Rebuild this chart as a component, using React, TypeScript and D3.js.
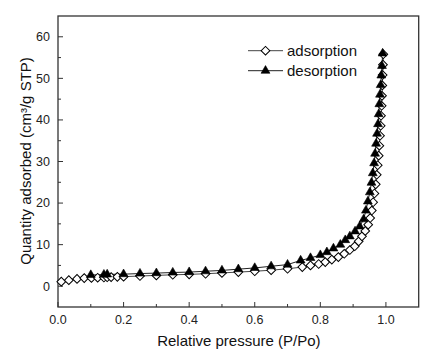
import React from "react";
import * as d3 from "d3";

// adsorption branch (P/Po, quantity)
const adsP = [
  0.01, 0.033, 0.058, 0.08, 0.102, 0.121, 0.14, 0.15, 0.162, 0.181, 0.2, 0.25,
  0.3, 0.35, 0.4, 0.45, 0.5, 0.55, 0.6, 0.65, 0.7, 0.745, 0.77, 0.795, 0.815,
  0.835, 0.855, 0.873, 0.89, 0.905, 0.917, 0.927, 0.937, 0.946, 0.952, 0.957,
  0.961, 0.965, 0.969, 0.972, 0.975, 0.978, 0.98, 0.982, 0.984, 0.985, 0.987,
  0.988, 0.989, 0.99, 0.991, 0.992,
];
const adsQ = [
  1.1, 1.45, 1.75, 1.95, 2.0, 2.05, 2.1, 2.15, 2.2, 2.25, 2.3, 2.45, 2.6, 2.75,
  2.85, 3.0, 3.2, 3.4, 3.6, 3.85, 4.2, 4.6, 5.0, 5.35, 5.8, 6.4, 7.0, 7.8, 8.7,
  9.6, 10.8, 12.0, 13.3, 14.8, 16.4, 18.2, 20.2, 22.3, 24.5, 26.8, 29.1, 31.4,
  33.8, 36.2, 38.6, 41.0, 43.4, 45.8, 48.3, 50.8, 53.3, 55.8,
];

// desorption branch
const desP = [
  0.99, 0.988, 0.986, 0.984, 0.982, 0.98, 0.978, 0.976, 0.973, 0.97, 0.967,
  0.964, 0.96, 0.956, 0.951, 0.945, 0.939, 0.932, 0.92, 0.906, 0.89, 0.876,
  0.861, 0.84, 0.82, 0.8, 0.77, 0.74, 0.7, 0.65, 0.6, 0.55, 0.5, 0.45, 0.4,
  0.35, 0.3, 0.25, 0.2, 0.15, 0.14, 0.1,
];
const desQ = [
  56.0, 53.0, 50.7, 48.4, 46.1, 43.8, 41.4, 39.0, 36.7, 34.3, 31.9, 29.6, 27.2,
  24.9, 22.6, 20.4, 18.2, 16.1, 14.4, 13.2, 12.0, 11.1, 10.0, 9.1, 8.2, 7.5,
  6.8, 6.2, 5.2, 4.8, 4.4, 4.1, 3.8, 3.6, 3.4, 3.3, 3.15, 3.05, 2.9, 2.85, 2.8,
  2.7,
];

const xTicks = [0, 0.2, 0.4, 0.6, 0.8, 1.0];
const xMinor = [0.1, 0.3, 0.5, 0.7, 0.9];
const yTicks = [0, 10, 20, 30, 40, 50, 60];
const yMinor = [5, 15, 25, 35, 45, 55];

const W = 447;
const H = 355;
const left = 58, right = 418.7, top = 16, bottom = 307;
const font = "'Liberation Sans', Arial, sans-serif";

export default function App() {
  const x = d3.scaleLinear().domain([0, 1.1]).range([left, right]);
  const y = d3.scaleLinear().domain([-5, 65]).range([bottom, top]);

  const ads = adsP.map((p, i) => [p, adsQ[i]] as [number, number]);
  const des = desP.map((p, i) => [p, desQ[i]] as [number, number]);

  const line = d3
    .line<[number, number]>()
    .x((d) => x(d[0]))
    .y((d) => y(d[1]));

  const diamond = d3.symbol(d3.symbolSquare, 38)() as string;
  const triangle = d3.symbol(d3.symbolTriangle, 34)() as string;

  return (
    <svg
      width={W}
      height={H}
      style={{ position: "absolute", left: 0, top: 0, background: "#fff" }}
      fontFamily={font}
    >
      {/* frame */}
      <rect
        x={left}
        y={top}
        width={right - left}
        height={bottom - top}
        fill="none"
        stroke="#333"
        strokeWidth={1.3}
      />

      {/* x ticks */}
      {xTicks.map((t) => (
        <g key={"x" + t}>
          <line x1={x(t)} x2={x(t)} y1={bottom} y2={bottom - 5} stroke="#333" />
          <text x={x(t)} y={324} fontSize={12.5} textAnchor="middle" fill="#222">
            {t.toFixed(1)}
          </text>
        </g>
      ))}
      {xMinor.map((t) => (
        <line key={"xm" + t} x1={x(t)} x2={x(t)} y1={bottom} y2={bottom - 3} stroke="#333" />
      ))}

      {/* y ticks */}
      {yTicks.map((t) => (
        <g key={"y" + t}>
          <line x1={left} x2={left + 5} y1={y(t)} y2={y(t)} stroke="#333" />
          <text x={50} y={y(t) + 4.4} fontSize={12.5} textAnchor="end" fill="#222">
            {t}
          </text>
        </g>
      ))}
      {yMinor.map((t) => (
        <line key={"ym" + t} x1={left} x2={left + 3} y1={y(t)} y2={y(t)} stroke="#333" />
      ))}

      {/* axis titles */}
      <text x={(left + right) / 2 + 0.5} y={346} fontSize={15} textAnchor="middle" fill="#111">
        Relative pressure (P/Po)
      </text>
      <text
        transform={`translate(31,${161}) rotate(-90)`}
        fontSize={15}
        textAnchor="middle"
        fill="#111"
      >
        Quantity adsorbed (cm³/g STP)
      </text>

      {/* series lines */}
      <path d={line(ads) || ""} fill="none" stroke="#444" strokeWidth={1} />
      <path d={line(des) || ""} fill="none" stroke="#222" strokeWidth={1} />

      {/* markers */}
      {ads.map((d, i) => (
        <path
          key={"a" + i}
          d={diamond}
          transform={`translate(${x(d[0])},${y(d[1])}) rotate(45)`}
          fill="#fff"
          stroke="#000"
          strokeWidth={1}
        />
      ))}
      {des.map((d, i) => (
        <path
          key={"d" + i}
          d={triangle}
          transform={`translate(${x(d[0])},${y(d[1])})`}
          fill="#000"
          stroke="#000"
          strokeWidth={0.6}
        />
      ))}

      {/* legend */}
      <g>
        <line x1={248} x2={283} y1={50.7} y2={50.7} stroke="#444" />
        <path d={diamond} transform="translate(265.5,50.7) rotate(45)" fill="#fff" stroke="#000" />
        <text x={287} y={56} fontSize={15} fill="#111">adsorption</text>
        <line x1={248} x2={283} y1={70.7} y2={70.7} stroke="#222" />
        <path d={triangle} transform="translate(265.5,70.7)" fill="#000" stroke="#000" strokeWidth={0.6} />
        <text x={287} y={75.5} fontSize={15} fill="#111">desorption</text>
      </g>
    </svg>
  );
}
